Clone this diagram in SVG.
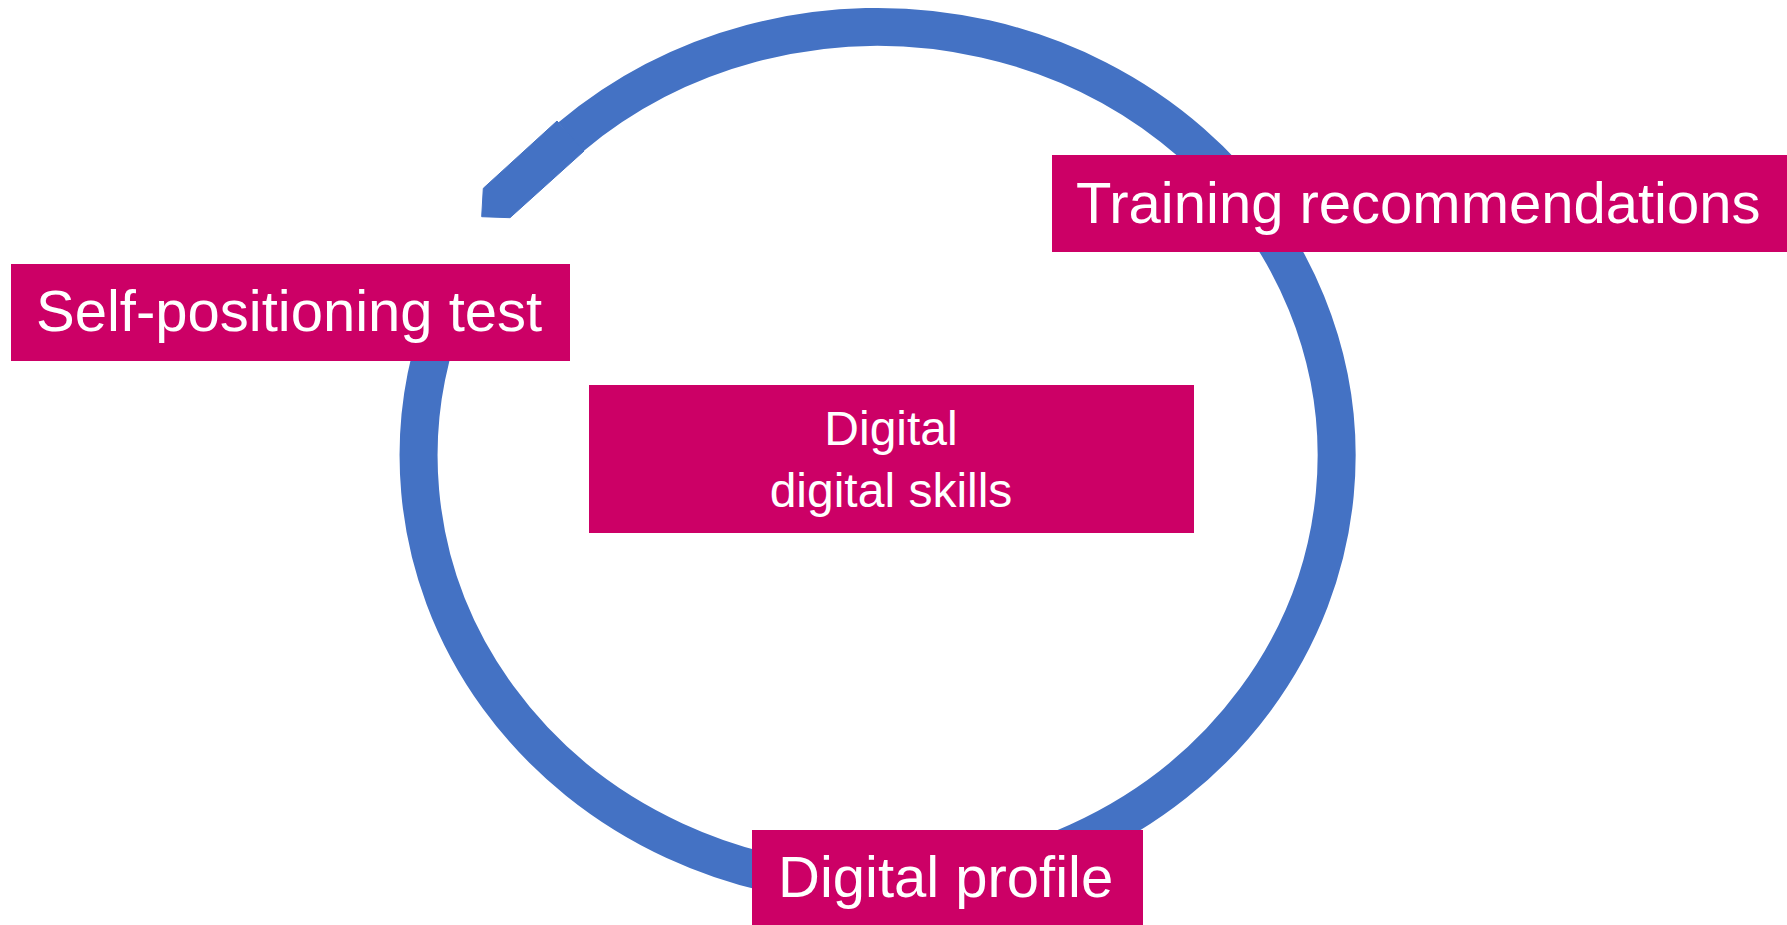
<svg xmlns="http://www.w3.org/2000/svg" width="1787" height="925" viewBox="0 0 1787 925">
<style>
.box{fill:#CC0066}
.lbl{fill:#FFFFFF;font-family:"Liberation Sans",Arial,sans-serif;font-size:58px}
.lbl2{fill:#FFFFFF;font-family:"Liberation Sans",Arial,sans-serif;font-size:48px;text-anchor:middle}
.arc{fill:none;stroke:#4472C4;stroke-width:38}
.tail{fill:#4472C4;stroke:#4472C4;stroke-width:1}
</style>
<rect width="1787" height="925" fill="#FFFFFF"/>
<g id="connectors">
<path class="arc" d="M 450 300 A 459 429 0 1 0 570.5 137.1"/>
<polygon class="tail" points="557,121 483.3,188.3 481.7,216.7 510,217.7 584,151"/>
</g>
<g id="node-self-positioning">
<rect class="box" x="11" y="264" width="559" height="97"/>
<text class="lbl" x="36" y="331">Self-positioning test</text>
</g>
<g id="node-training">
<rect class="box" x="1052" y="155" width="735" height="97"/>
<text class="lbl" x="1076" y="223">Training recommendations</text>
</g>
<g id="node-digital-profile">
<rect class="box" x="752" y="830" width="391" height="95"/>
<text class="lbl" x="778" y="897">Digital profile</text>
</g>
<g id="node-digital-skills">
<rect class="box" x="589" y="385" width="605" height="148"/>
<text class="lbl2" x="891" y="445">Digital</text>
<text class="lbl2" x="891" y="507">digital skills</text>
</g>
</svg>
